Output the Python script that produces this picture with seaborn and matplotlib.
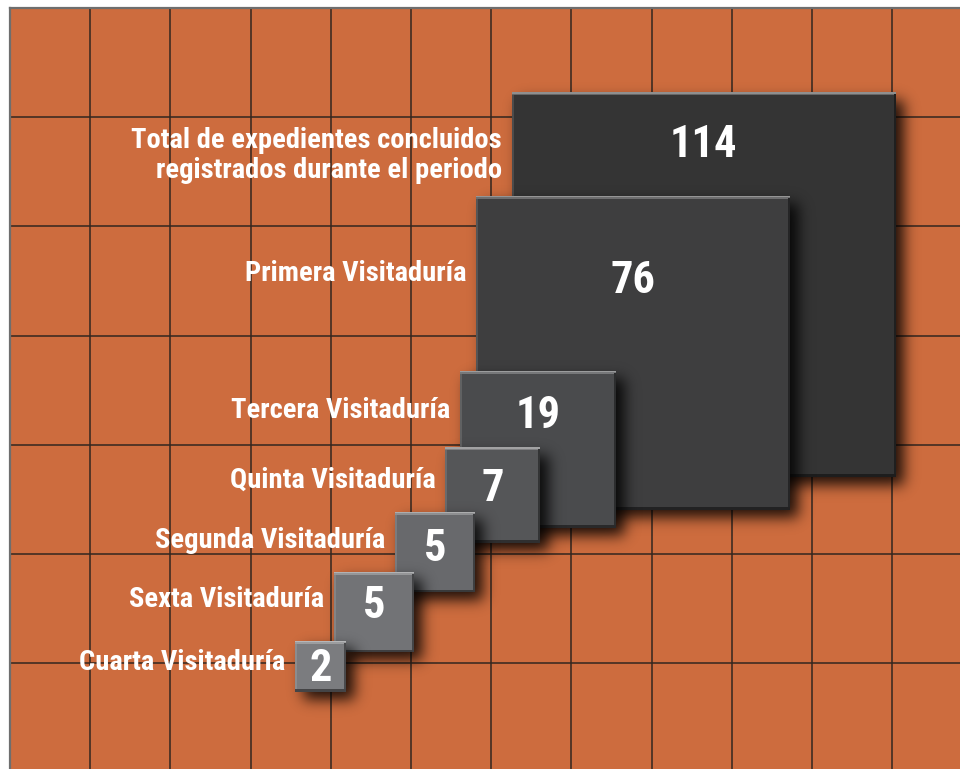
import matplotlib
matplotlib.use("Agg")
import matplotlib.pyplot as plt
from matplotlib.patches import Rectangle
from matplotlib.colors import to_rgb
from math import erf
import numpy as np
import seaborn as sns

# Data
labels = [
    "Total de expedientes concluidos\nregistrados durante el periodo",
    "Primera Visitaduría",
    "Tercera Visitaduría",
    "Quinta Visitaduría",
    "Segunda Visitaduría",
    "Sexta Visitaduría",
    "Cuarta Visitaduría",
]
values = [114, 76, 19, 7, 5, 5, 2]

# Layout in pixels: top-left corner of each square, baselines of its texts
# (for the two-line label the baseline is the one of the last line)
box_left = [511.5, 476, 459.5, 445, 394.5, 333.5, 295]
box_top = [92.5, 196, 371, 447.5, 512, 572, 641]
value_base = [157, 293, 428, 501.5, 561, 618, 681.5]
label_base = [178.5, 281, 418, 488, 548, 607, 670]
box_colors = ["#343434", "#3e3e3f", "#4a4b4d", "#555658", "#68696c", "#727376", "#7b7c7f"]
px_per_sqrt = 36.0  # square side = 36 px * sqrt(value), so area ~ value

W, H = 960, 769

sns.set_theme(style="white")
plt.rcParams["font.family"] = ["Roboto Condensed", "DejaVu Sans"]

fig = plt.figure(figsize=(W / 100, H / 100), dpi=100)
ax = fig.add_axes([10 / W, 0, (W - 10) / W, (H - 8) / H])
ax.set_facecolor("#cd6c3e")

# background grid
ax.set_xticks(10 + 80.2 * np.arange(1, 12))
ax.set_yticks(8 + 109.2 * np.arange(1, 7))
ax.tick_params(length=0, labelbottom=False, labelleft=False)
ax.grid(True, color="#33261f", linewidth=1.1)
ax.set_axisbelow(True)
for side in ["right", "bottom"]:
    ax.spines[side].set_visible(False)
for side in ["top", "left"]:
    ax.spines[side].set_color("#6e6e6e")
    ax.spines[side].set_linewidth(1.6)

verf = np.vectorize(erf)


def shade(color, amount):
    c = np.array(to_rgb(color))
    if amount > 0:
        return tuple(c + (1 - c) * amount)
    return tuple(c * (1 + amount))


def soft_shadow(x0, y0, side, off=8, sigma=7.0, strength=0.85):
    pad = 4 * sigma
    xs = np.arange(x0 + off - pad, x0 + off + side + pad, 1.0)
    ys = np.arange(y0 + off - pad, y0 + off + side + pad, 1.0)
    k = sigma * np.sqrt(2)
    fx = 0.5 * (verf((xs - x0 - off) / k) - verf((xs - x0 - off - side) / k))
    fy = 0.5 * (verf((ys - y0 - off) / k) - verf((ys - y0 - off - side) / k))
    rgba = np.zeros((len(ys), len(xs), 4))
    rgba[..., 3] = strength * np.outer(fy, fx)
    ax.imshow(rgba, extent=(xs[0] - 0.5, xs[-1] + 0.5, ys[-1] + 0.5, ys[0] - 0.5),
              origin="upper", interpolation="bilinear", aspect="auto", zorder=3)


for lab, val, x0, y0, vb, lb, col in zip(labels, values, box_left, box_top,
                                         value_base, label_base, box_colors):
    side = px_per_sqrt * np.sqrt(val)
    soft_shadow(x0, y0, side)
    ax.add_patch(Rectangle((x0, y0), side, side, facecolor=col, edgecolor="none", zorder=3))
    # bevel edges
    ax.add_patch(Rectangle((x0, y0), side, 1.5, facecolor=shade(col, 0.45),
                           edgecolor="none", zorder=3))
    ax.add_patch(Rectangle((x0, y0 + 1.5), side, 1.5, facecolor=shade(col, 0.25),
                           edgecolor="none", zorder=3))
    ax.add_patch(Rectangle((x0, y0 + 3), 2, side - 3, facecolor=shade(col, 0.12),
                           edgecolor="none", zorder=3))
    ax.add_patch(Rectangle((x0 + side - 2, y0 + 2), 2, side - 2,
                           facecolor=shade(col, -0.4), edgecolor="none", zorder=3))
    ax.add_patch(Rectangle((x0, y0 + side - 2.5), side, 2.5,
                           facecolor=shade(col, -0.45), edgecolor="none", zorder=3))

    ax.text(x0 + side / 2, vb, str(val), ha="center", va="baseline",
            color="white", fontsize=32, fontweight="bold", zorder=5)
    ax.text(x0 - 9.5, lb, lab, ha="right", va="baseline", color="white",
            fontsize=20.5, fontweight="bold", linespacing=1.17, zorder=5)

ax.set_xlim(10, W)
ax.set_ylim(H, 8)

fig.savefig("out.png", dpi=100, facecolor="white")
